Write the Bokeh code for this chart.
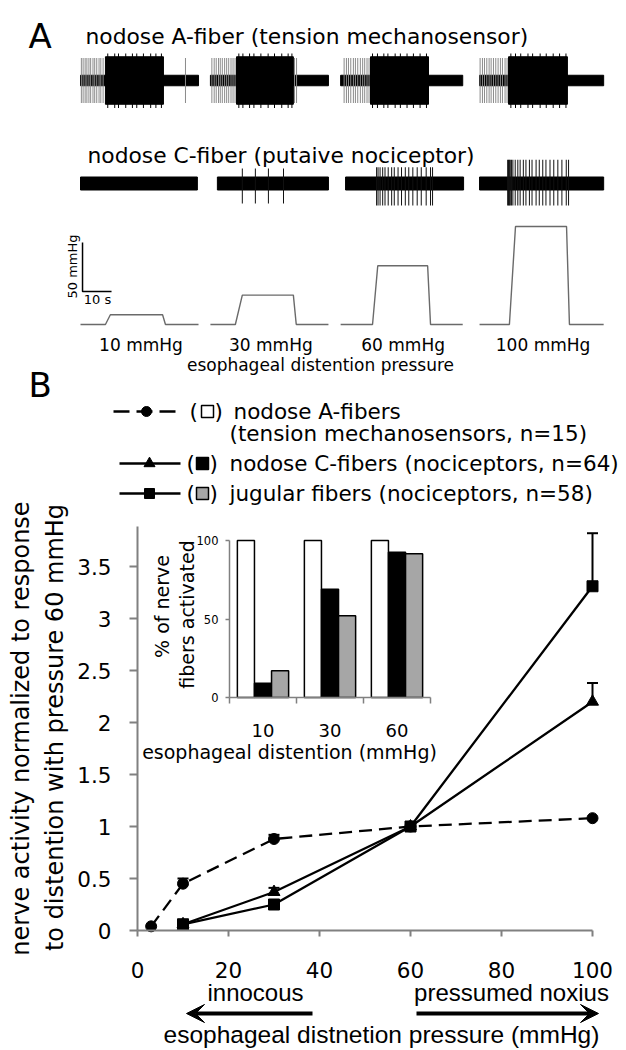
from math import pi
from bokeh.plotting import figure
from bokeh.models import (Range1d, Label, Arrow, VeeHead, Whisker, TeeHead,
                          ColumnDataSource, LinearAxis, FixedTicker)
from bokeh.embed import file_html
from bokeh.resources import INLINE

# ============================ DATA ============================
# ---- Panel A: distension steps and recordings (times in s from sweep start)
PRESSURE_STEPS = [10, 30, 60, 100]                      # mmHg
PRESSURE_STEP_LABELS = ["10 mmHg", "30 mmHg", "60 mmHg", "100 mmHg"]
SWEEP_DUR = [40.7, 40.7, 42.1, 42.8]
PRESS_RISE_START = [8.6, 8.6, 11.0, 10.3]
PRESS_RISE_END = [10.3, 11.0, 12.8, 12.4]
PRESS_FALL_START = [28.3, 28.6, 30.0, 30.0]
PRESS_FALL_END = [29.3, 29.6, 31.0, 31.0]

# nodose A-fiber (tension mechanosensor)
A_BURST_ON = [8.6, 9.0, 10.3, 10.0]
A_BURST_OFF = [28.6, 28.6, 30.3, 30.3]
A_TONIC_SPIKES = [
    [0.3, 0.9, 1.6, 2.2, 2.9, 3.5, 4.3, 4.9, 5.6, 6.4, 7.0, 7.8, 36.2],
    [0.5, 1.3, 2.0, 2.8, 3.4, 4.1, 4.9, 5.6, 6.3, 7.1, 7.8, 8.5, 29.0, 29.7],
    [1.2, 2.0, 2.7, 3.5, 4.4, 5.1, 5.9, 6.8, 7.6, 8.3, 9.1, 9.8],
    [0.2, 1.0, 1.7, 2.5, 3.3, 4.0, 4.8, 5.6, 6.4, 7.2, 7.9, 8.8, 9.5],
]
A_BURST_PEAKS = [
    [9.4, 11.8, 13.1, 15.6, 17.9, 19.4, 21.7, 24.2, 26.0, 27.9],
    [9.8, 11.2, 13.5, 15.0, 17.4, 19.9, 22.1, 24.6, 26.8, 28.1],
    [11.0, 12.7, 14.9, 16.3, 18.8, 20.6, 22.9, 25.1, 27.4, 29.6],
    [10.8, 12.4, 14.2, 16.7, 18.3, 20.9, 23.0, 25.4, 27.6, 29.8],
]
# nodose C-fiber (putative nociceptor)
C_SWEEP_ON = [0.0, 2.4, 1.7, 0.0]
C_SWEEP_DUR = [40.3, 38.3, 40.7, 42.8]
C_SPIKES = [
    [],
    [11.0, 15.5, 20.0, 25.2],
    [12.4, 12.9, 13.6, 14.5, 15.3, 16.4, 17.6, 18.5, 19.8, 21.0, 22.3, 23.5,
     24.9, 26.4, 27.8, 29.5, 31.0, 31.7],
    [9.7, 10.0, 10.3, 10.6, 11.0, 11.5, 12.3, 13.2, 14.0, 15.1, 16.0, 17.2,
     18.1, 19.5, 20.6, 21.8, 22.9, 24.3, 25.6, 27.0, 28.4, 29.9, 30.7],
]
C_SPIKE_UP = [0.0, 0.6, 0.65, 0.95]
C_SPIKE_DOWN = [0.0, 0.8, 0.88, 0.88]

# ---- Panel B: normalized nerve activity vs distension pressure
A_FIB_X = [3, 10, 30, 60, 100]
A_FIB_Y = [0.04, 0.45, 0.88, 1.0, 1.08]
C_FIB_X = [10, 30, 60, 100]
C_FIB_Y = [0.06, 0.37, 1.0, 2.2]
JUG_X = [10, 30, 60, 100]
JUG_Y = [0.06, 0.25, 1.0, 3.31]
ERR_X = [10, 30, 30, 100, 100]
ERR_MEAN = [0.45, 0.88, 0.37, 2.2, 3.31]
ERR_UPPER = [0.50, 0.92, 0.41, 2.38, 3.82]
X_TICKS = [0, 20, 40, 60, 80, 100]
Y_TICKS = [0, 0.5, 1, 1.5, 2, 2.5, 3, 3.5]
Y_TICK_LABELS = ["0", "0.5", "1", "1.5", "2", "2.5", "3", "3.5"]

# inset: % of nerve fibers activated
INSET_CATS = ["10", "30", "60"]
INSET_A = [100, 100, 100]
INSET_C = [9, 69, 92.5]
INSET_J = [17, 52, 91.5]
INSET_Y_TICKS = [0, 50, 100]

LEGEND_TEXT = ["nodose A-fibers", "(tension mechanosensors, n=15)",
               "nodose C-fibers (nociceptors, n=64)",
               "jugular fibers (nociceptors, n=58)"]

# ============================ LAYOUT ============================
W, H = 626, 1050
PX_PER_S = 2.9
T_ORIGIN = 80                     # page x of t = 0 (first sweep)
SWEEP_T0 = [0.0, 44.8, 89.7, 137.6]
X0_PX, X_PPU = 137, 4.55          # main chart: x=0 at page x 137
Y0_PX, Y_PPU = 930, 104           # main chart: y=0 at page y 930
IX0_PX, IX_PPU = 229, 67          # inset: group axis
IY0_PX, IY_PPU = 697, 1.57        # inset: percent axis
DEJA = "DejaVu Sans"
LIB = "Liberation Sans"


def xr(px0, ppu):
    s = -px0 / ppu
    return Range1d(s, s + W / ppu)


def yr(py0, ppu):
    s = -(H - py0) / ppu
    return Range1d(s, s + H / ppu)


p = figure(width=W, height=H, x_range=xr(X0_PX, X_PPU), y_range=yr(Y0_PX, Y_PPU),
           x_axis_type=None, y_axis_type=None, toolbar_location=None,
           output_backend="svg", min_border=0, outline_line_color=None)
p.extra_x_ranges = {"px": Range1d(0, W), "t": xr(T_ORIGIN, PX_PER_S),
                    "ix": xr(IX0_PX, IX_PPU)}
p.extra_y_ranges = {"py": Range1d(H, 0), "ampA": yr(80, 25), "ampC": yr(183, 25),
                    "mmHg": yr(324, 0.98), "iy": yr(IY0_PX, IY_PPU)}


def lab(x, y, text, size, font=DEJA, align="left", baseline="middle",
        angle=0.0, rx="px", ry="py", color="black"):
    p.add_layout(Label(x=x, y=y, text=text, text_font=font,
                       text_font_size=f"{size}px", text_align=align,
                       text_baseline=baseline, angle=angle,
                       text_color=color, x_range_name=rx, y_range_name=ry))


# ---------------------------- Panel A ----------------------------
T = dict(x_range_name="t")
p.quad(left=[SWEEP_T0[k] for k in range(4)],
       right=[SWEEP_T0[k] + SWEEP_DUR[k] for k in range(4)],
       bottom=-0.21, top=0.21, color="black", y_range_name="ampA", **T)
tx = [SWEEP_T0[k] + s for k in range(4) for s in A_TONIC_SPIKES[k]]
p.segment(x0=tx, y0=-0.9, x1=tx, y1=0.9, line_color="#8a8a8a",
          line_width=1, y_range_name="ampA", **T)
p.quad(left=[SWEEP_T0[k] + A_BURST_ON[k] for k in range(4)],
       right=[SWEEP_T0[k] + A_BURST_OFF[k] for k in range(4)],
       bottom=-0.95, top=0.95, color="black", y_range_name="ampA", **T)
bx = [SWEEP_T0[k] + s for k in range(4) for s in A_BURST_PEAKS[k]]
p.segment(x0=bx, y0=-1.1, x1=bx, y1=1.08, line_color="black",
          line_width=1, y_range_name="ampA", **T)

p.quad(left=[SWEEP_T0[k] + C_SWEEP_ON[k] for k in range(4)],
       right=[SWEEP_T0[k] + C_SWEEP_ON[k] + C_SWEEP_DUR[k] for k in range(4)],
       bottom=-0.26, top=0.26, color="black", y_range_name="ampC", **T)
cx, cu, cd = [], [], []
for k in range(4):
    for s in C_SPIKES[k]:
        cx.append(SWEEP_T0[k] + s)
        cu.append(C_SPIKE_UP[k])
        cd.append(-C_SPIKE_DOWN[k])
p.segment(x0=cx, y0=cd, x1=cx, y1=cu, line_color="#111111", line_width=1,
          y_range_name="ampC", **T)

pxs, pys = [], []
for k in range(4):
    t0 = SWEEP_T0[k]
    L = PRESSURE_STEPS[k]
    pxs.append([t0, t0 + PRESS_RISE_START[k], t0 + PRESS_RISE_END[k],
                t0 + PRESS_FALL_START[k], t0 + PRESS_FALL_END[k],
                t0 + SWEEP_DUR[k]])
    pys.append([0, 0, L, L, 0, 0])
p.multi_line(xs=pxs, ys=pys, line_color="#6a6a6a", line_width=1.4,
             y_range_name="mmHg", **T)

SB_T, SB_P = 0.7, 33.7            # scale bar 50 mmHg / 10 s
p.line([SB_T, SB_T, SB_T + 10], [SB_P + 50, SB_P, SB_P], line_color="black",
       line_width=1.5, y_range_name="mmHg", **T)
lab(72, 266, "50 mmHg", 13, align="center", angle=pi / 2)
lab(97, 299, "10 s", 13, align="center")

for k in range(4):
    lab(SWEEP_T0[k] + SWEEP_DUR[k] / 2 + 0.5, 344, PRESSURE_STEP_LABELS[k],
        17, align="center", rx="t")
lab(320, 364, "esophageal distention pressure", 17, align="center")

lab(28, 35, "A", 34)
lab(85, 36, "nodose A-fiber (tension mechanosensor)", 21.8, baseline="alphabetic")
lab(87, 155, "nodose C-fiber (putaive nociceptor)", 21.8, baseline="alphabetic")
lab(28, 384, "B", 34)

# legend
PP = dict(x_range_name="px", y_range_name="py")
p.line([113, 178], [411, 411], line_color="black", line_width=2.3,
       line_dash="16 7", **PP)
p.scatter([146], [411], marker="circle", size=10, color="black", **PP)
p.line([119, 180], [463, 463], line_color="black", line_width=2.3, **PP)
p.scatter([149], [463], marker="triangle", size=11, color="black", **PP)
p.line([119, 180], [493, 493], line_color="black", line_width=2.3, **PP)
p.scatter([149], [493], marker="square", size=10, color="black", **PP)
p.scatter([207, 202, 202], [411, 463, 493], marker="square", size=12,
          fill_color=["white", "black", "#a6a6a6"], line_color="black",
          line_width=1.5, **PP)
for (xl, xrr, y) in [(189, 214, 411), (186, 209, 463), (186, 209, 493)]:
    lab(xl, y, "(", 21.5)
    lab(xrr, y, ")", 21.5)
LEG_FS = 21.5
lab(233, 411, LEGEND_TEXT[0], LEG_FS)
lab(229, 433, LEGEND_TEXT[1], LEG_FS)
lab(229, 463, LEGEND_TEXT[2], LEG_FS)
lab(229, 493, LEGEND_TEXT[3], LEG_FS)

# ---------------------------- Panel B ----------------------------
AX_COL = "#808080"


def style_axis(ax, size, tick_out, standoff, width=2):
    ax.axis_line_color = AX_COL
    ax.axis_line_width = width
    ax.major_tick_line_color = AX_COL
    ax.major_tick_line_width = width
    ax.minor_tick_line_color = None
    ax.major_tick_in = 0
    ax.major_tick_out = tick_out
    ax.major_label_standoff = standoff
    ax.major_label_text_font = DEJA
    ax.major_label_text_font_size = f"{size}px"
    ax.major_label_text_color = "black"


xa = LinearAxis(fixed_location=0, bounds=(0, 100), ticker=FixedTicker(ticks=X_TICKS))
style_axis(xa, 21.5, 6, 25)
p.add_layout(xa, "below")
ya = LinearAxis(fixed_location=0, bounds=(0, 3.88), ticker=FixedTicker(ticks=Y_TICKS))
ya.major_label_overrides = dict(zip(Y_TICKS, Y_TICK_LABELS))
style_axis(ya, 21.5, 8, 18)
p.add_layout(ya, "left")

# inset bars
I = dict(x_range_name="ix", y_range_name="iy")
BAR_W = 0.255
centers = [i + 0.5 for i in range(len(INSET_CATS))]
for off, vals, col in [(-BAR_W, INSET_A, "white"), (0, INSET_C, "black"),
                       (BAR_W, INSET_J, "#a6a6a6")]:
    p.vbar(x=[c + off for c in centers], top=vals, bottom=0, width=BAR_W,
           fill_color=col, line_color="black", line_width=1.5, **I)

iya = LinearAxis(fixed_location=0, bounds=(0, 100),
                 ticker=FixedTicker(ticks=INSET_Y_TICKS), **I)
style_axis(iya, 11.5, 4, 7, width=1.5)
p.add_layout(iya, "left")

ixa = LinearAxis(fixed_location=0, bounds=(0, len(INSET_CATS)),
                 ticker=FixedTicker(ticks=centers,
                                    minor_ticks=list(range(len(INSET_CATS) + 1))),
                 **I)
style_axis(ixa, 18, 0, 20, width=1.5)
ixa.major_label_overrides = dict(zip(centers, INSET_CATS))
ixa.major_tick_line_color = None
ixa.minor_tick_line_color = AX_COL
ixa.minor_tick_line_width = 1.5
ixa.minor_tick_out = 6
ixa.minor_tick_in = 0
p.add_layout(ixa, "below")

# series
p.line(A_FIB_X, A_FIB_Y, line_color="black", line_width=2.3, line_dash="13 7")
p.line(C_FIB_X, C_FIB_Y, line_color="black", line_width=2.3)
p.line(JUG_X, JUG_Y, line_color="black", line_width=2.3)
p.add_layout(Whisker(source=ColumnDataSource(dict(base=ERR_X, lower=ERR_MEAN,
                                                  upper=ERR_UPPER)),
                     base="base", lower="lower", upper="upper",
                     dimension="height", lower_head=None,
                     upper_head=TeeHead(size=11, line_width=2, line_color="black"),
                     line_width=2, line_color="black"))
p.scatter(A_FIB_X, A_FIB_Y, marker="circle", size=11, color="black")
p.scatter(C_FIB_X, C_FIB_Y, marker="triangle", size=12, color="black")
p.scatter(JUG_X, JUG_Y, marker="square", size=11, color="black")

# texts of panel B
lab(20, 728, "nerve activity normalized to response", 24, align="center", angle=pi / 2)
lab(54, 727, "to distention with pressure 60 mmHg", 24, align="center", angle=pi / 2)
lab(161, 606, "% of nerve", 19, align="center", angle=pi / 2)
lab(186, 614, "fibers activated", 19, align="center", angle=pi / 2)
lab(289, 751, "esophageal distention (mmHg)", 19, align="center")
lab(255, 992, "innocous", 24, font=LIB, align="center")
lab(511, 992, "pressumed noxius", 24, font=LIB, align="center")
lab(381, 1034, "esophageal distnetion pressure (mmHg)", 24.5, font=LIB, align="center")
for xs, xe in [(312, 186), (416, 598)]:
    p.add_layout(Arrow(x_start=xs, y_start=1013, x_end=xe, y_end=1013,
                       line_width=4, line_color="black", start=None,
                       end=VeeHead(size=18, fill_color="black", line_color="black"),
                       **PP))

open("out.html", "w").write(file_html(p, INLINE))
